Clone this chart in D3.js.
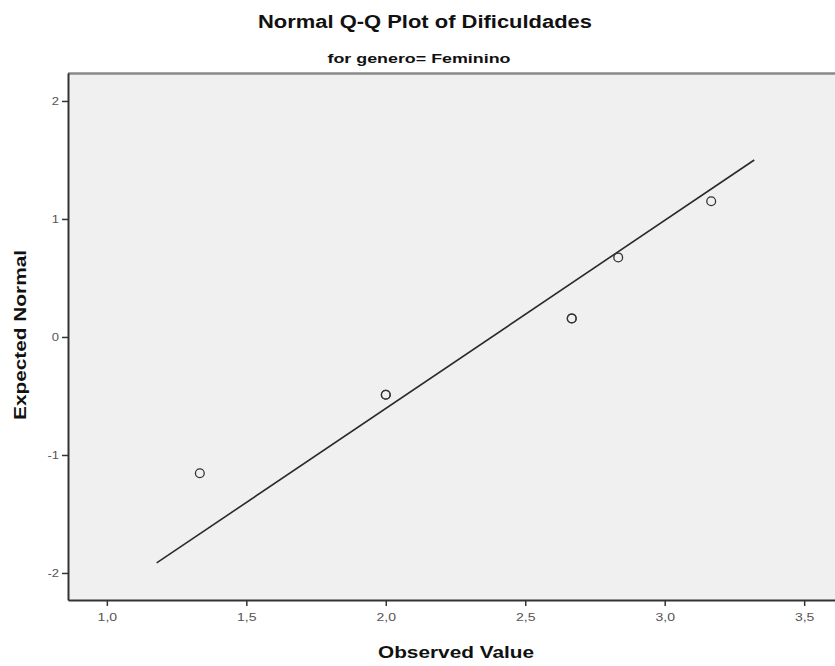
<!DOCTYPE html>
<html><head><meta charset="utf-8">
<script src="https://cdn.jsdelivr.net/npm/d3@7"></script>
<style>body{margin:0;background:#fff}svg{display:block}</style>
</head><body>
<svg id="c" width="835" height="666"></svg>
<script>
const title = "Normal Q-Q Plot of Dificuldades";
const subtitle = "for genero= Feminino";
const xLabel = "Observed Value";
const yLabel = "Expected Normal";
const observed = [1.3333, 2.0, 2.0, 2.6667, 2.6667, 2.8333, 3.1667];
const expected = [-1.155, -0.49, -0.49, 0.157, 0.157, 0.674, 1.15];
const xTicks = [1.0, 1.5, 2.0, 2.5, 3.0, 3.5];
const yTicks = [-2, -1, 0, 1, 2];
const lineX = [1.1786, 3.321];
const lineY = [-1.915, 1.50];

const svg = d3.select("#c");
const L = 68, T = 73, B = 600, R = 845;
const x = d3.scaleLinear().domain([0.8607, 3.6464]).range([L, R]);
const y = d3.scaleLinear().domain([-2.229, 2.237]).range([B, T]);
const ff = "Liberation Sans, Arial, sans-serif";

function stretch(sel, factor) {
  sel.each(function () {
    const w = this.getComputedTextLength();
    d3.select(this).attr("textLength", w * factor).attr("lengthAdjust", "spacingAndGlyphs");
  });
}

svg.append("rect").attr("x", L).attr("y", T).attr("width", R - L).attr("height", B - T).attr("fill", "#f0f0f0");
svg.append("line").attr("x1", L).attr("x2", R).attr("y1", T + 0.5).attr("y2", T + 0.5).attr("stroke", "#8a8a8a").attr("stroke-width", 2.5);

const fmt = d => d3.format(".1f")(d).replace(".", ",");
const xa = svg.append("g").attr("transform", `translate(0,${B})`)
  .call(d3.axisBottom(x).tickValues(xTicks).tickFormat(fmt).tickSize(6).tickSizeOuter(0).tickPadding(8));
const ya = svg.append("g").attr("transform", `translate(${L},0)`)
  .call(d3.axisLeft(y).tickValues(yTicks).tickFormat(d => String(d)).tickSize(6).tickSizeOuter(0).tickPadding(3));
[xa, ya].forEach(a => {
  a.select(".domain").attr("stroke", "#333").attr("stroke-width", 2);
  a.selectAll(".tick line").attr("stroke", "#333").attr("stroke-width", 1.5);
  a.selectAll("text").attr("font-family", ff).attr("font-size", 10).attr("fill", "#555");
});
stretch(xa.selectAll("text"), 1.4);
stretch(ya.selectAll("text"), 1.3);

svg.append("line")
  .attr("x1", x(lineX[0])).attr("y1", y(lineY[0]))
  .attr("x2", x(lineX[1])).attr("y2", y(lineY[1]))
  .attr("stroke", "#2a2a2a").attr("stroke-width", 1.6);

svg.append("g").selectAll("circle").data(observed).join("circle")
  .attr("cx", (d) => x(d)).attr("cy", (d, i) => y(expected[i]))
  .attr("r", 4.4).attr("fill", "none").attr("stroke", "#333").attr("stroke-width", 1.3);

function label(txt, size, len) {
  return svg.append("text").attr("text-anchor", "middle")
    .attr("font-family", ff).attr("font-weight", "bold").attr("font-size", size).attr("fill", "#111")
    .attr("textLength", len).attr("lengthAdjust", "spacingAndGlyphs").text(txt);
}
label(title, 18, 334).attr("x", 425).attr("y", 28);
label(subtitle, 13.5, 183).attr("x", 419).attr("y", 63);
label(xLabel, 16.5, 156).attr("x", 456).attr("y", 658);
label(yLabel, 16.5, 170).attr("transform", "translate(26,335) rotate(-90)");
</script>
</body></html>
